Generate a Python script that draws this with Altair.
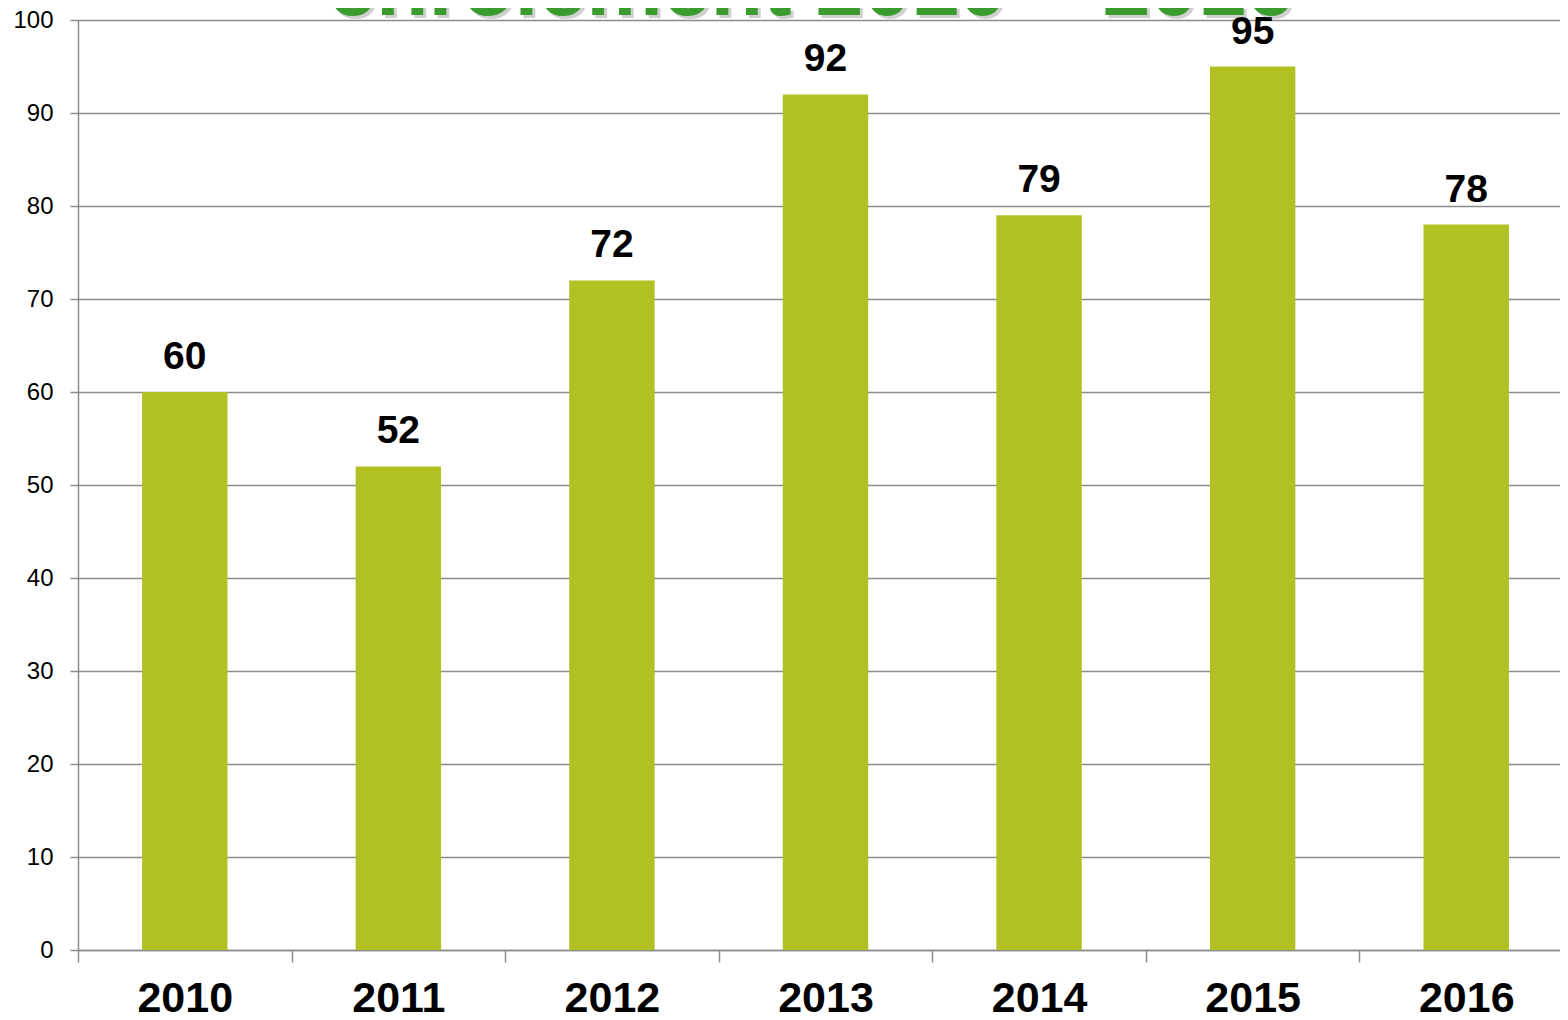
import altair as alt
import pandas as pd

years = ["2010", "2011", "2012", "2013", "2014", "2015", "2016"]
values = [60, 52, 72, 92, 79, 95, 78]
title_text = ["enrolement 2010 – 2016"]
y_ticks = [0, 10, 20, 30, 40, 50, 60, 70, 80, 90, 100]

FONT = "Liberation Sans"
GRAY = "#8c8c8c"

df = pd.DataFrame({"year": years, "value": values})
tdf = pd.DataFrame({"t": title_text})

x_enc = alt.X(
    "year:N",
    title=None,
    sort=years,
    scale=alt.Scale(paddingInner=0, paddingOuter=0, range=[0, 1495]),
    axis=alt.Axis(
        tickBand="extent",
        tickSize=12,
        tickColor=GRAY,
        tickWidth=1.5,
        domainColor=GRAY,
        domainWidth=1.5,
        labelAngle=0,
        labelFont=FONT,
        labelFontSize=43,
        labelFontWeight="bold",
        labelColor="black",
        labelPadding=15,
        grid=False,
    ),
)
y_enc = alt.Y(
    "value:Q",
    title=None,
    scale=alt.Scale(domain=[0, 100], nice=False),
    axis=alt.Axis(
        values=y_ticks,
        tickSize=8,
        tickColor=GRAY,
        tickWidth=1.5,
        domainColor=GRAY,
        domainWidth=1.5,
        gridColor=GRAY,
        gridWidth=1.5,
        labelFont=FONT,
        labelFontSize=24,
        labelColor="black",
        labelPadding=17,
    ),
)

base = alt.Chart(df)
bars = base.mark_bar(color="#b1c124", width=alt.RelativeBandSize(0.4)).encode(x=x_enc, y=y_enc)
labels = base.mark_text(
    dy=-23, fontSize=39, fontWeight="bold", font=FONT, baseline="alphabetic", color="black"
).encode(x=alt.X("year:N", sort=years), y="value:Q", text="value:Q")

shadow = alt.Chart(tdf).mark_text(
    fontSize=86, fontWeight="bold", font=FONT, baseline="alphabetic", align="center",
    color="#666666", opacity=0.3
).encode(text="t:N", x=alt.value(736), y=alt.value(-2))
title = alt.Chart(tdf).mark_text(
    fontSize=86, fontWeight="bold", font=FONT, baseline="alphabetic", align="center",
    color="#3a9b2e"
).encode(text="t:N", x=alt.value(733), y=alt.value(-5))

chart = alt.layer(bars, labels, shadow, title).properties(
    width=1482,
    height=930,
    autosize=alt.AutoSizeParams(type="none"),
    padding={"left": 70, "top": 12, "right": 0, "bottom": 62},
    background="white",
).configure_view(stroke=None)

chart.save("out.html", embed_options={"renderer": "svg", "actions": False})
